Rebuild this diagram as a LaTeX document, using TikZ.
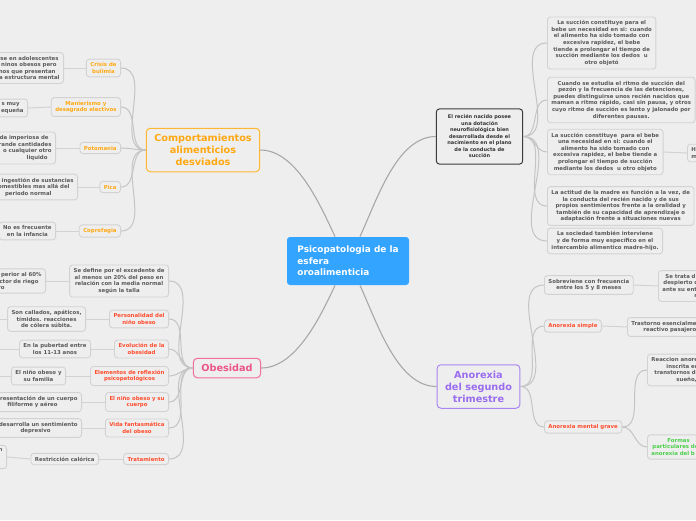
\documentclass[tikz,border=0pt]{standalone}
\usepackage{fontspec}
\setmainfont{DejaVu Sans}
\usetikzlibrary{positioning,calc}
\definecolor{paper}{HTML}{EEEEEE}
\definecolor{boxgray}{HTML}{D2D2D2}
\definecolor{leafgray}{HTML}{5A5A5A}
\definecolor{linkgray}{HTML}{C4C4C4}
\definecolor{maingray}{HTML}{A8A8A8}
\definecolor{rootblue}{HTML}{33A4FF}
\definecolor{orangeline}{HTML}{FFB733}
\definecolor{orangetext}{HTML}{FFA812}
\definecolor{redtext}{HTML}{FF4D2E}
\definecolor{pinkline}{HTML}{F0709E}
\definecolor{pinktext}{HTML}{EC5586}
\definecolor{purpleline}{HTML}{A985F2}
\definecolor{purpletext}{HTML}{9A6CEE}
\definecolor{greentext}{HTML}{4CCF4C}
\definecolor{darkline}{HTML}{3C3C3C}
\definecolor{darktext}{HTML}{333333}
\tikzset{every picture/.style={line width=0.9pt}}

\begin{document}
\begin{tikzpicture}[x=1pt,y=-1pt,
    box/.style={rectangle, rounded corners=3pt, draw=boxgray, fill=paper, line width=0.9pt,
      font=\fontsize{5.4}{6.6}\selectfont\bfseries, align=center,
      inner xsep=4pt, inner ysep=3.5pt, text=leafgray},
    leaf/.style={box},
    orangetopic/.style={box, text=orangetext},
    redtopic/.style={box, text=redtext},
    cutleft/.style={box, anchor=east, text width=120pt, align=right},
    cutright/.style={box, anchor=west, text width=120pt, align=left},
    branch/.style={rectangle, rounded corners=4pt, fill=paper, line width=1pt,
      font=\fontsize{9.7}{12}\selectfont\bfseries, align=center,
      inner xsep=8pt, inner ysep=6pt},
    root/.style={rectangle, rounded corners=3pt, fill=rootblue, text=white,
      font=\fontsize{8.9}{11.5}\selectfont\bfseries, align=left,
      minimum width=122pt, minimum height=48pt},
    mainlink/.style={draw=maingray, line width=1.1pt, looseness=0.8},
    link/.style={draw=linkgray, line width=1pt},
    leaflink/.style={draw=boxgray, line width=1pt}]

    % 背景
    \useasboundingbox (0,0) rectangle (696,520);
    \clip (0,0) rectangle (696,520);
    \fill[paper] (0,0) rectangle (696,520);

    % 中心节点
    \node[root] (psico) at (348,261) {Psicopatologia de la\\esfera\\oroalimenticia};

    % 主分支
    \node[branch, draw=orangeline, text=orangetext] (comport) at (203,150) {Comportamientos\\alimenticios\\desviados};
    \node[branch, draw=pinkline, text=pinktext] (obesidad) at (227,368) {Obesidad};
    \node[branch, draw=purpleline, text=purpletext] (anorexia) at (478.5,386.5) {Anorexia\\del segundo\\trimestre};
    \node[box, draw=darkline, text=darktext, line width=1pt, font=\fontsize{5}{6.5}\selectfont\bfseries,
      inner xsep=11pt, inner ysep=6pt] (recien) at (479.5,136.5)
      {El recién nacido posee\\una dotación\\neurofisiológica bien\\desarrollada desde el\\nacimiento en el plano\\de la conducta de\\succión};

    % 绘制 Comportamientos 子节点
    \node[orangetopic, anchor=east] (bulimia) at (121,68) {Crisis de\\bulimia};
    \node[orangetopic, anchor=east] (manierismo) at (121,107) {Manierismo y\\desagrado electivos};
    \node[orangetopic, anchor=east] (potomania) at (121,148) {Potomania};
    \node[orangetopic, anchor=east] (pica) at (121,187) {Pica};
    \node[orangetopic, anchor=east] (coprofagia) at (121,231) {Coprofagia};

    \node[cutleft] (gbulimia) at (64,68) {rse en adolescentes\rule{1pt}{0pt}\\ninos obesos pero\rule{3pt}{0pt}\\nos que presentan\rule{4pt}{0pt}\\a estructura mental};
    \node[cutleft] (gmanierismo) at (28,108) {s muy\rule{4pt}{0pt}\\equeña};
    \node[cutleft] (gpotomania) at (56,148) {da imperiosa de\rule{3pt}{0pt}\\rande cantidades\\o cualquier otro\\liquido\rule{4pt}{0pt}};
    \node[cutleft] (gpica) at (78,187) {ingestión de sustancias\\omestibles mas allá del\rule{4pt}{0pt}\\periodo normal\rule{22pt}{0pt}};
    \node[leaf, anchor=east] (gcoprofagia) at (56,231) {No es frecuente\\en la infancia};

    % 绘制 Obesidad 子节点
    \node[leaf, anchor=east] (define) at (169,281) {Se define por el excedente de\\al menos un 20\% del peso en\\relación con la media normal\\según la talla};
    \node[redtopic, anchor=east] (personalidad) at (169,319) {Personalidad del\\niño obeso};
    \node[redtopic, anchor=east] (evolucion) at (169,349) {Evolución de la\\obesidad};
    \node[redtopic, anchor=east] (elementos) at (169,376) {Elementos de reflexión\\psicopatológicos};
    \node[redtopic, anchor=east] (cuerpo) at (169,402) {El niño obeso y su\\cuerpo};
    \node[redtopic, anchor=east] (vida) at (169,428) {Vida fantasmática\\del obeso};
    \node[redtopic, anchor=east] (tratamiento) at (169,459) {Tratamiento};

    \node[cutleft] (riesgo) at (46,281) {perior al 60\%\\ctor de riego\rule{3pt}{0pt}\\ro\rule{37pt}{0pt}};
    \node[leaf, anchor=east] (callados) at (86,319) {Son callados, apáticos,\\tímidos. reacciones\\de cólera súbita.};
    \node[leaf, anchor=east] (pubertad) at (91,349) {En la pubertad entre\\los 11-13 anos};
    \node[leaf, anchor=east] (familia) at (66,376) {El niño obeso y\\su familia};
    \node[cutleft] (filiforme) at (82,402) {resentación de un cuerpo\\filiforme y aéreo\rule{20pt}{0pt}};
    \node[cutleft] (depresivo) at (82,428) {desarrolla un sentimiento\\depresivo\rule{27pt}{0pt}};
    \node[leaf, anchor=east] (restriccion) at (99,459) {Restricción calórica};
    \node[cutleft] (regimen) at (7,457) {n\\\mbox{}\\\mbox{}};
    \coordinate (offcallados) at (-10,319);
    \coordinate (offpubertad) at (-10,349);
    \coordinate (offfamilia) at (-10,376);

    % 绘制 Anorexia 子节点
    \node[leaf, anchor=west] (frecuencia) at (544,285) {Sobreviene con frecuencia\\entre los 5 y 8 meses};
    \node[redtopic, anchor=west] (simple) at (544,326) {Anorexia simple};
    \node[redtopic, anchor=west] (grave) at (544,427) {Anorexia mental grave};

    \node[cutright] (despierto) at (658,286) {\rule{3pt}{0pt}Se trata d\\\rule{1pt}{0pt}despierto c\\ante su ent\\\rule{32pt}{0pt}r};
    \node[cutright] (reactivo) at (627,327) {Trastorno esencialme\\\rule{12pt}{0pt}reactivo pasajero};
    \node[cutright] (reaccion) at (647,370) {Reaccion anore\\\rule{15pt}{0pt}inscrita en\\\rule{3pt}{0pt}transtornos d\\\rule{25pt}{0pt}sueño,};
    \node[cutright, text=greentext] (formas) at (647,447) {\rule{16pt}{0pt}Formas\\\rule{1pt}{0pt}particulares de\\anorexia del b};

    % 绘制 recién nacido 子节点
    \node[leaf, anchor=west] (succionA) at (547,43) {La succión constituye para el\\bebe un necesidad en si: cuando\\el alimento ha sido tomado con\\excesiva rapidez, el bebe\\tiende a prolongar el tiempo de\\succión mediante los dedos\ \ u\\otro objetó};
    \node[leaf, anchor=west] (ritmo) at (547,100) {Cuando se estudia el ritmo de succión del\\pezón y la frecuencia de las detenciones,\\puedes distinguirse unos recién nacidos que\\maman a ritmo rápido, casi sin pausa, y otros\\cuyo ritmo de succión es lento y jalonado por\\diferentes pausas.};
    \node[leaf, anchor=west] (succionB) at (547,152) {La succión constituye\ \ para el bebe\\una necesidad en si: cuando el\\alimento ha sido tomado con\\excesiva rapidez, el bebe tiende a\\prolongar el tiempo de succión\\mediante los dedos\ \ u otro objeto};
    \node[leaf, anchor=west] (actitud) at (547,206) {La actitud de la madre es función a la vez, de\\la conducta del recién nacido y de sus\\propios sentimientos frente a la oralidad y\\también de su capacidad de aprendizaje o\\adaptación frente a situaciones nuevas};
    \node[leaf, anchor=west] (sociedad) at (547,241) {La sociedad también interviene\\y de forma muy específico en el\\intercambio alimentico madre-hijo.};
    \node[cutright] (hm) at (687,153) {H\\m};

    % 中心到主分支的连线
    \draw[mainlink] ($(psico.north)+(-13,0)$) to[out=115,in=0] (comport.east);
    \draw[mainlink] ($(psico.north)+(12,0)$) to[out=65,in=180] (recien.west);
    \draw[mainlink] ($(psico.south)+(-13,0)$) to[out=245,in=0] (obesidad.east);
    \draw[mainlink] ($(psico.south)+(12,0)$) to[out=295,in=180] (anorexia.west);

    % 分支到子节点的连线
    \foreach \n in {bulimia,manierismo,potomania,pica,coprofagia}
      \draw[link] (comport.west) to[out=180,in=0] (\n.east);
    \foreach \n in {define,personalidad,evolucion,elementos,cuerpo,vida,tratamiento}
      \draw[link] (obesidad.west) to[out=180,in=0] (\n.east);
    \foreach \n in {frecuencia,simple,grave}
      \draw[link] (anorexia.east) to[out=0,in=180] (\n.west);
    \foreach \n in {succionA,ritmo,succionB,actitud,sociedad}
      \draw[link] (recien.east) to[out=0,in=180] (\n.west);
    \foreach \n in {reaccion,formas}
      \draw[link] (grave.east) to[out=0,in=180] (\n.west);

    % 叶节点的连线
    \draw[leaflink] (bulimia.west) -- (gbulimia.east);
    \draw[leaflink] (manierismo.west) -- (gmanierismo.east);
    \draw[leaflink] (potomania.west) -- (gpotomania.east);
    \draw[leaflink] (pica.west) -- (gpica.east);
    \draw[leaflink] (coprofagia.west) -- (gcoprofagia.east);
    \draw[leaflink] (define.west) -- (riesgo.east);
    \draw[leaflink] (personalidad.west) -- (callados.east);
    \draw[leaflink] (evolucion.west) -- (pubertad.east);
    \draw[leaflink] (elementos.west) -- (familia.east);
    \draw[leaflink] (cuerpo.west) -- (filiforme.east);
    \draw[leaflink] (vida.west) -- (depresivo.east);
    \draw[leaflink] (tratamiento.west) -- (restriccion.east);
    \draw[leaflink] (restriccion.west) -- (regimen.east);
    \draw[leaflink] (callados.west) -- (offcallados);
    \draw[leaflink] (pubertad.west) -- (offpubertad);
    \draw[leaflink] (familia.west) -- (offfamilia);
    \draw[leaflink] (frecuencia.east) -- (despierto.west);
    \draw[leaflink] (simple.east) -- (reactivo.west);
    \draw[leaflink] (succionB.east) -- (hm.west);
\end{tikzpicture}
\end{document}
